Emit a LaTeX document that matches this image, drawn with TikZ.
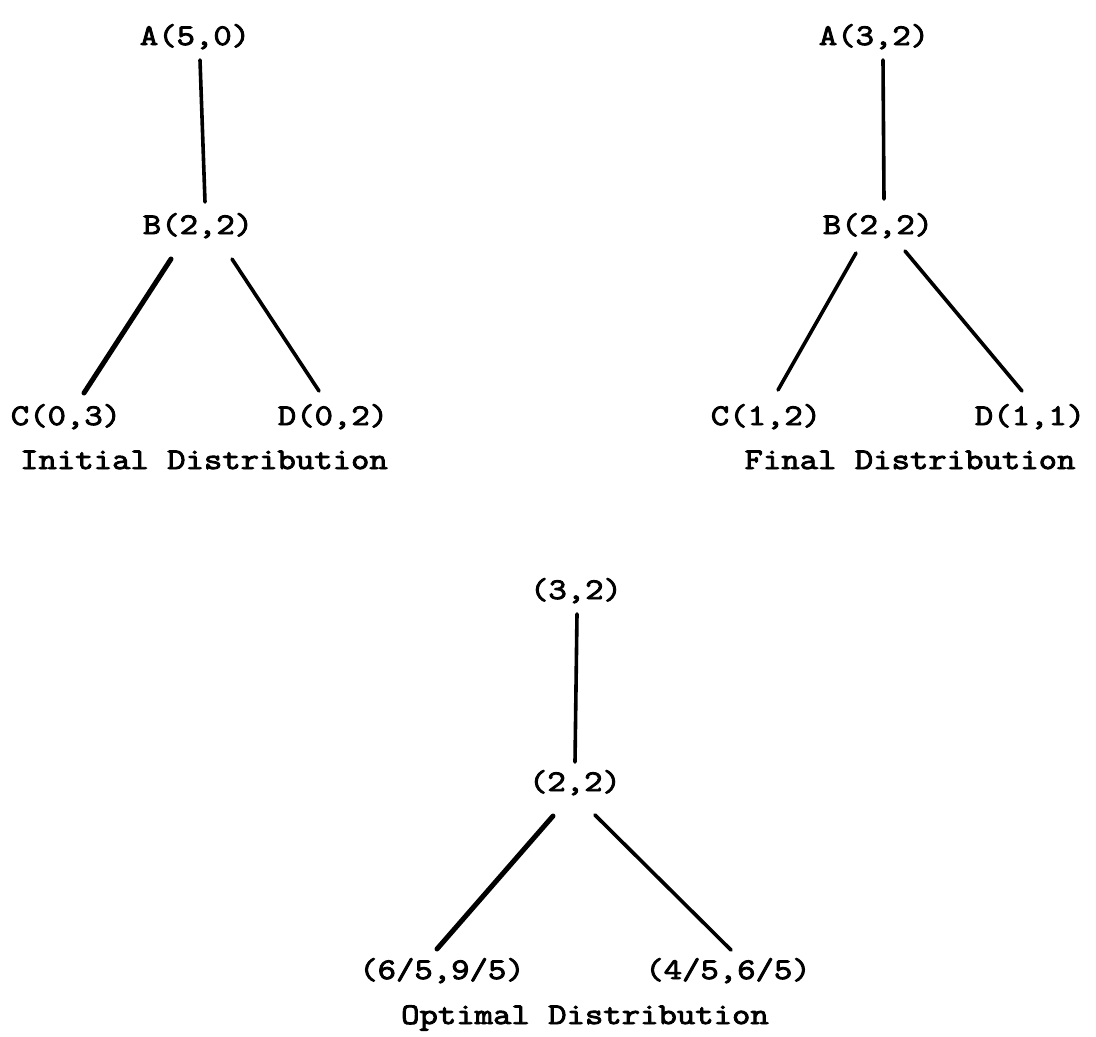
\documentclass[tikz,border=0pt]{standalone}
\usepackage{fontspec}
\newfontfamily\tw{Latin Modern Mono}[FakeStretch=1.19,FakeBold=3]
\usetikzlibrary{calc}
\begin{document}
\begin{tikzpicture}[x=1pt,y=-1pt,
  lbl/.style={font=\tw\fontsize{30}{35}\selectfont, inner sep=0pt, text height=22pt, text depth=6pt, anchor=center},
  edge/.style={line width=3.6pt, line cap=round, black},
  heavy/.style={edge, line width=5pt}]
\useasboundingbox (0,0) rectangle (1096,1037);
% Initial distribution
\node[lbl] (A1) at (195,37) {A(5,0)};
\node[lbl] (B1) at (198,226) {B(2,2)};
\node[lbl] (C1) at (66,417) {C(0,3)};
\node[lbl] (D1) at (333,417) {D(0,2)};
\node[lbl] (cap1) at (204,461) {Initial Distribution};
\draw[edge] ($(A1)+(5,23)$) -- ($(B1)+(7,-24)$);
\draw[heavy] ($(B1)+(-27,33)$) -- ($(C1)+(18,-24)$);
\draw[edge] ($(B1)+(34,33)$) -- ($(D1)+(-14,-26)$);
% Final distribution
\node[lbl] (A2) at (874,37) {A(3,2)};
\node[lbl] (B2) at (878,226) {B(2,2)};
\node[lbl] (C2) at (766,417) {C(1,2)};
\node[lbl] (D2) at (1030,417) {D(1,1)};
\node[lbl] (cap2) at (910,461) {Final Distribution};
\draw[edge] ($(A2)+(9,23)$) -- ($(B2)+(6,-27)$);
\draw[edge] ($(B2)+(-22,27)$) -- ($(C2)+(12,-27)$);
\draw[edge] ($(B2)+(27,25)$) -- ($(D2)+(-8,-26)$);
% Optimal distribution
\node[lbl] (T) at (576,591) {(3,2)};
\node[lbl] (M) at (575,783) {(2,2)};
\node[lbl] (L) at (442,971) {(6/5,9/5)};
\node[lbl] (R) at (728,971) {(4/5,6/5)};
\node[lbl] (cap3) at (585,1016) {Optimal Distribution};
\draw[edge] ($(T)+(1,23)$) -- ($(M)+(0,-21)$);
\draw[heavy] ($(M)+(-22,33)$) -- ($(L)+(-5,-22)$);
\draw[edge] ($(M)+(20,32)$) -- ($(R)+(3,-21)$);
\end{tikzpicture}
\end{document}
